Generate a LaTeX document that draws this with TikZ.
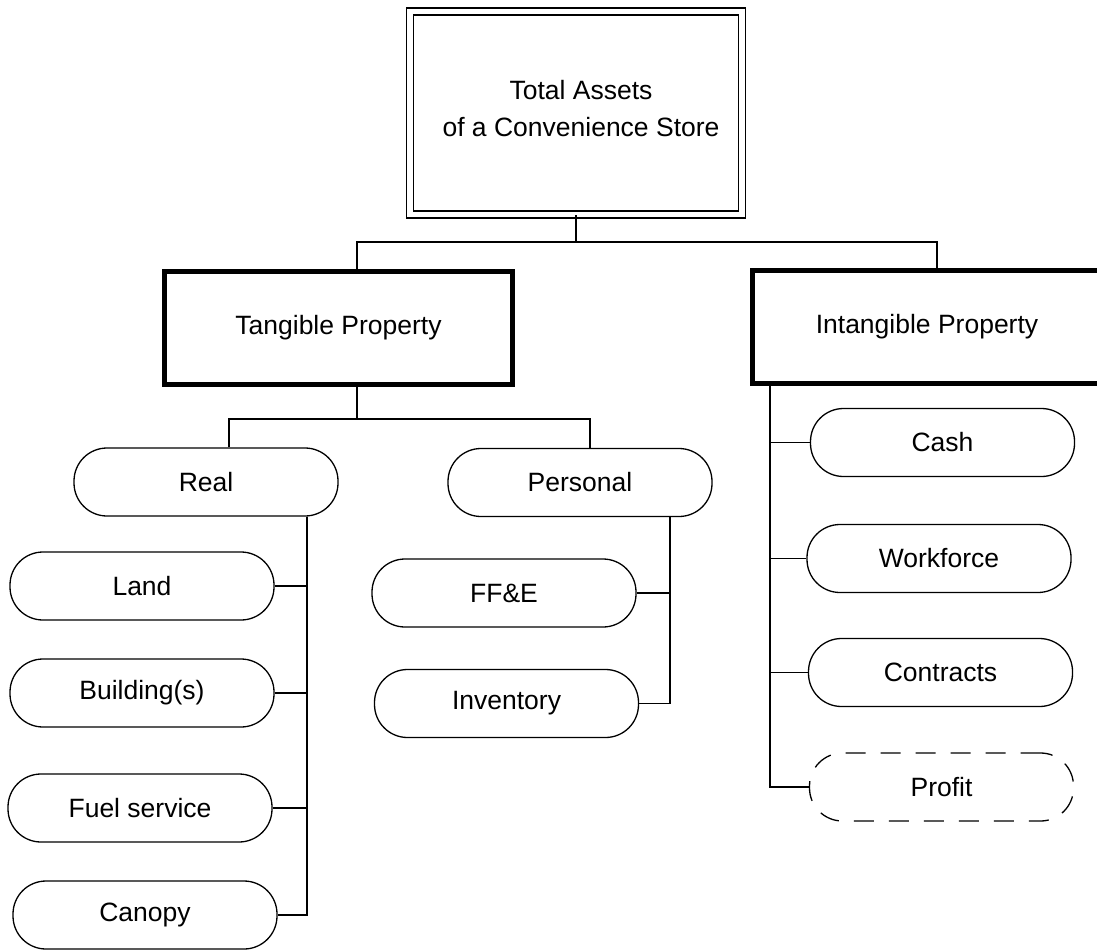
\documentclass[tikz,border=0pt]{standalone}
\usepackage{fontspec}
\setmainfont{Liberation Sans}
\begin{document}
\begin{tikzpicture}[x=1pt,y=-1pt,
  every node/.style={font=\fontsize{26.5}{37}\selectfont, align=center, inner sep=0pt},
  pill/.style={draw, line width=1.3pt, rounded corners=33pt, minimum width=264pt, minimum height=68pt},
  dashpill/.style={pill, dash pattern=on 20pt off 15pt},
  thickbox/.style={draw, line width=5pt, minimum height=113pt},
  link/.style={line width=1.3pt}
]
\useasboundingbox (0,0) rectangle (1097,950);
\clip (0,0) rectangle (1097,950);
\fill[white] (0,0) rectangle (1097,950);

% top box (double border)
\node[draw, double, line width=1.6pt, double distance=5.5pt, minimum width=332pt, minimum height=203pt] (top) at (576,113) {};
\node (toptext) at (581,109) {Total Assets\\ of a Convenience Store};

% level 2
\node[thickbox, minimum width=348pt] (tang) at (338.5,328) {Tangible Property};
\node[thickbox, minimum width=349pt] (intg) at (927,327) {Intangible Property};

% level 3
\node[pill] (real) at (206,482) {Real};
\node[pill] (pers) at (580,482.5) {Personal};

% real children
\node[pill] (land) at (142,586) {Land};
\node[pill] (build) at (142,693) {Building(s)};
\node[pill] (fuel) at (140,808) {Fuel service};
\node[pill] (canopy) at (145,915) {Canopy};

% personal children
\node[pill] (ffe) at (504,593) {FF\&E};
\node[pill] (inv) at (506.5,703.5) {Inventory};

% intangible children
\node[pill] (cash) at (942.5,442.5) {Cash};
\node[pill] (work) at (939,558.5) {Workforce};
\node[pill] (contr) at (940.5,672.5) {Contracts};
\node[dashpill] (profit) at (941.5,787) {Profit};

% helper coordinates
\coordinate (bus1) at (0,242);
\coordinate (xt) at (357,0);
\coordinate (xi) at (937,0);
\coordinate (bus2) at (0,419);
\coordinate (xreal) at (229,0);
\coordinate (xpers) at (590,0);
\coordinate (xr) at (307,0);
\coordinate (xp) at (670,0);
\coordinate (xint) at (770,0);

% connectors
\draw[link] (top.south) -- (top.south |- bus1);
\draw[link] (tang.north -| xt) -- (xt |- bus1) -- (xi |- bus1) -- (intg.north -| xi);
\draw[link] (tang.south -| xt) -- (xt |- bus2);
\draw[link] (real.north -| xreal) -- (xreal |- bus2) -- (xpers |- bus2) -- (pers.north -| xpers);

\draw[link] (real.south -| xr) |- (canopy.east);
\draw[link] (land.east) -- (land.east -| xr);
\draw[link] (build.east) -- (build.east -| xr);
\draw[link] (fuel.east) -- (fuel.east -| xr);

\draw[link] (pers.south -| xp) |- (inv.east);
\draw[link] (ffe.east) -- (ffe.east -| xp);

\draw[link] (intg.south -| xint) |- (profit.west);
\draw[link] (cash.west) -- (cash.west -| xint);
\draw[link] (work.west) -- (work.west -| xint);
\draw[link] (contr.west) -- (contr.west -| xint);
\end{tikzpicture}
\end{document}
